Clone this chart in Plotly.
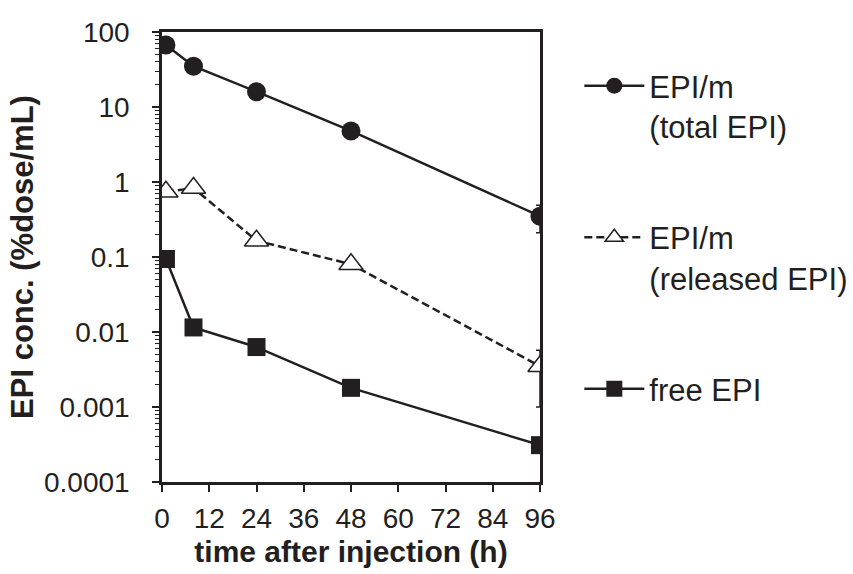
import plotly.graph_objects as go

# Sampling times (h after injection)
time_h = [1, 8, 24, 48, 96]

# EPI concentration in plasma (%dose/mL)
total_epi = [67, 35, 16, 4.8, 0.35]
total_err = [0, 0, 0, 0, 0.14]

released_epi = [0.74, 0.83, 0.165, 0.08, 0.0035]
released_err_up = [0, 0, 0, 0, 0.0022]
released_err_down = [0, 0, 0, 0, 0.0025]

free_epi = [0.094, 0.0115, 0.0063, 0.0018, 0.00031]

x_ticks = [0, 12, 24, 36, 48, 60, 72, 84, 96]
y_ticks = [0.0001, 0.001, 0.01, 0.1, 1, 10, 100]
y_tick_labels = ["0.0001", "0.001", "0.01", "0.1", "1", "10", "100"]

INK = "#231f20"
FONT = "Liberation Sans, Arial, sans-serif"

fig = go.Figure()

fig.add_trace(go.Scatter(
    x=time_h, y=total_epi, name="EPI/m<br>(total EPI)", legendgroup="a",
    mode="lines+markers",
    line=dict(color=INK, width=2.5),
    marker=dict(symbol="circle", size=19, color=INK),
    error_y=dict(type="data", array=total_err, color=INK, thickness=1.5, width=4),
))

fig.add_trace(go.Scatter(
    x=time_h, y=released_epi, name="EPI/m<br>(released EPI)", legendgroup="b",
    mode="lines+markers",
    line=dict(color=INK, width=2.5, dash="8px,4px"),
    marker=dict(symbol="triangle-up", size=21, color="white",
                line=dict(color=INK, width=1.5)),
    error_y=dict(type="data", symmetric=False, array=released_err_up,
                 arrayminus=released_err_down, color=INK, thickness=1.5, width=4),
))

fig.add_trace(go.Scatter(
    x=time_h, y=free_epi, name="free EPI", legendgroup="c",
    mode="lines+markers",
    line=dict(color=INK, width=2.5),
    marker=dict(symbol="square", size=18, color=INK),
))

fig.update_layout(
    width=853, height=574,
    margin=dict(l=162, r=313, t=32, b=92, autoexpand=False),
    paper_bgcolor="white", plot_bgcolor="white",
    font=dict(family=FONT, color=INK, size=28),
    legend=dict(
        x=1.104, y=0.94, xanchor="left", yanchor="top",
        font=dict(size=31, color=INK),
        valign="top", tracegroupgap=68, itemwidth=60,
        bgcolor="rgba(0,0,0,0)",
    ),
    showlegend=True,
)

fig.update_xaxes(
    range=[0, 96], tickvals=x_ticks,
    showline=True, linecolor=INK, linewidth=2.5, mirror=True,
    ticks="outside", ticklen=7, tickwidth=1.5, tickcolor=INK,
    showgrid=False, zeroline=False,
    ticklabelstandoff=3,
    tickfont=dict(size=28, color=INK),
    title=dict(text="<b>time after injection (h)</b>", font=dict(size=30, color=INK), standoff=8),
)

fig.update_yaxes(
    type="log", range=[-4, 2],
    tickvals=y_ticks, ticktext=y_tick_labels,
    showline=True, linecolor=INK, linewidth=2.5, mirror=True,
    ticks="outside", ticklen=7, tickwidth=1.5, tickcolor=INK,
    minor=dict(ticks="outside", ticklen=4, tickwidth=1, tickcolor=INK, dtick="D1", showgrid=False),
    showgrid=False, zeroline=False,
    ticklabelstandoff=17,
    tickfont=dict(size=28, color=INK),
    title=dict(text="<b>EPI conc. (%dose/mL)</b>", font=dict(size=31, color=INK), standoff=2),
)

fig.write_html("out.html")
